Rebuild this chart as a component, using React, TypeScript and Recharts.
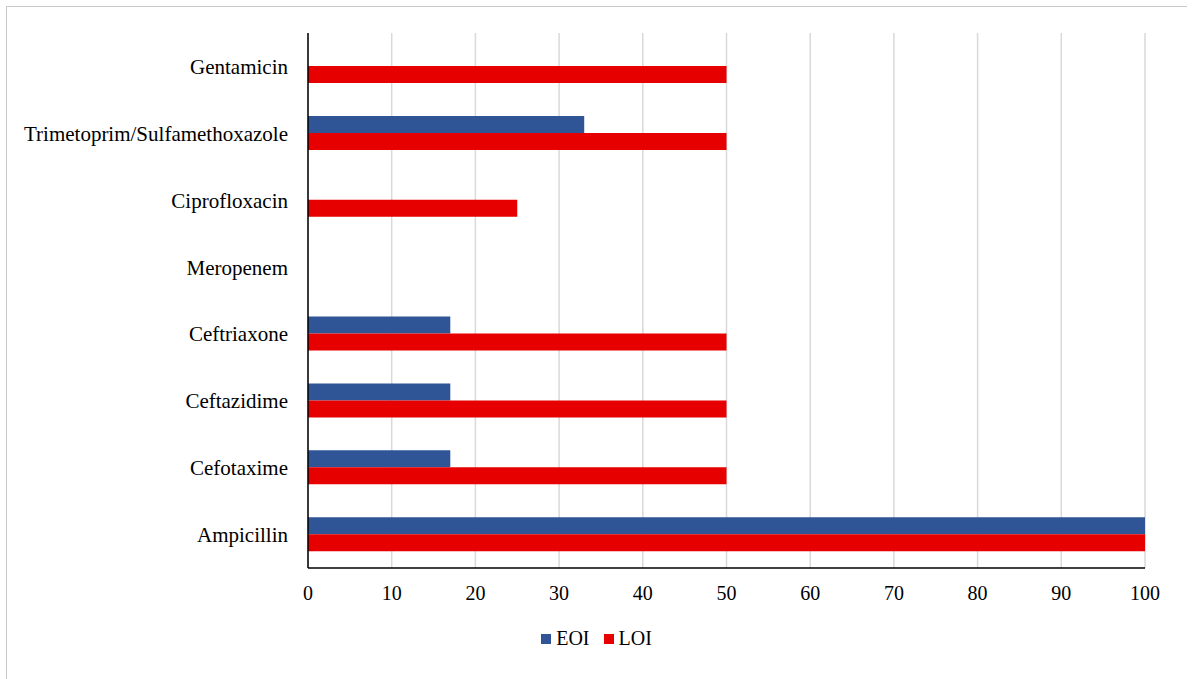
import React from "react";
import { BarChart, Bar, XAxis, YAxis, CartesianGrid, Legend } from "recharts";

const categories = [
  "Gentamicin",
  "Trimetoprim/Sulfamethoxazole",
  "Ciprofloxacin",
  "Meropenem",
  "Ceftriaxone",
  "Ceftazidime",
  "Cefotaxime",
  "Ampicillin",
];
const eoiValues = [0, 33, 0, 0, 17, 17, 17, 100];
const loiValues = [50, 50, 25, 0, 50, 50, 50, 100];
const xTicks = [0, 10, 20, 30, 40, 50, 60, 70, 80, 90, 100];

const data = categories.map((name, i) => ({ name, EOI: eoiValues[i], LOI: loiValues[i] }));

const FONT = "'Liberation Serif', 'Times New Roman', serif";
const BLUE = "#2F5597";
const RED = "#E60000";

const LegendContent = () => (
  <div
    style={{
      display: "flex",
      justifyContent: "center",
      alignItems: "center",
      fontFamily: FONT,
      fontSize: 20,
      color: "#000",
      gap: 14,
    }}
  >
    {[
      { label: "EOI", color: BLUE },
      { label: "LOI", color: RED },
    ].map((it) => (
      <div key={it.label} style={{ display: "flex", alignItems: "center" }}>
        <span style={{ width: 10, height: 10, background: it.color, display: "inline-block", marginRight: 5 }} />
        <span>{it.label}</span>
      </div>
    ))}
  </div>
);

export default function App() {
  return (
    <div style={{ position: "absolute", left: 0, top: 0, width: 1193, height: 679, background: "#fff" }}>
      <div
        style={{
          position: "absolute",
          left: 6,
          top: 6,
          width: 1181,
          height: 673,
          borderTop: "1.5px solid #c8c8c8",
          borderLeft: "1.5px solid #c8c8c8",
          boxSizing: "border-box",
        }}
      />
      <BarChart
        width={1193}
        height={679}
        data={data}
        layout="vertical"
        margin={{ top: 33, right: 48, left: 0, bottom: 29 }}
        barGap={0}
        barCategoryGap="25%"
      >
        <CartesianGrid horizontal={false} stroke="#d9d9d9" strokeWidth={1.5} />
        <XAxis
          type="number"
          domain={[0, 100]}
          ticks={xTicks}
          interval={0}
          height={59}
          tickLine={false}
          tickSize={0}
          tickMargin={18}
          axisLine={{ stroke: "#000", strokeWidth: 1.5 }}
          tick={{ fill: "#000", fontFamily: FONT, fontSize: 20 }}
        />
        <YAxis
          type="category"
          dataKey="name"
          width={308}
          tickLine={false}
          tickSize={0}
          tickMargin={20}
          interval={0}
          axisLine={{ stroke: "#000", strokeWidth: 1.5 }}
          tick={{ fill: "#000", fontFamily: FONT, fontSize: 21 }}
        />
        <Legend
          verticalAlign="bottom"
          content={<LegendContent />}
          wrapperStyle={{ left: 0, width: 1193 }}
        />
        <Bar dataKey="EOI" fill={BLUE} barSize={17} isAnimationActive={false} />
        <Bar dataKey="LOI" fill={RED} barSize={17} isAnimationActive={false} />
      </BarChart>
    </div>
  );
}
